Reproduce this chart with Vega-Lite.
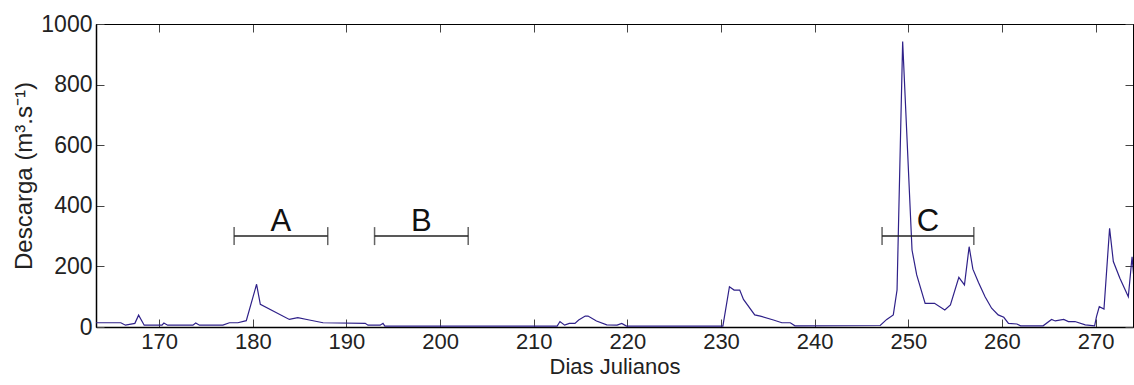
{
  "$schema": "https://vega.github.io/schema/vega-lite/v6.json",
  "width": 1037,
  "height": 303,
  "autosize": {"type": "none"},
  "padding": {"left": 96, "top": 24, "right": 1, "bottom": 58},
  "background": "white",
  "config": {
    "view": {"stroke": "#000", "strokeWidth": 1},
    "font": "Liberation Sans",
    "axis": {
      "grid": false,
      "labelFont": "Liberation Sans",
      "labelFontSize": 22,
      "labelColor": "#222",
      "tickColor": "#444",
      "tickSize": -8,
      "tickWidth": 1,
      "domainColor": "#000",
      "domainWidth": 1.5,
      "titleFont": "Liberation Sans",
      "titleFontWeight": "normal",
      "titleColor": "#222"
    }
  },
  "datasets": {
    "flow": [
      {"day": 163.2, "q": 14}, {"day": 165.9, "q": 14}, {"day": 166.4, "q": 6}, {"day": 167.4, "q": 12},
      {"day": 167.8, "q": 39}, {"day": 168.4, "q": 6}, {"day": 170.3, "q": 6}, {"day": 170.5, "q": 13},
      {"day": 170.9, "q": 6}, {"day": 173.6, "q": 6}, {"day": 173.9, "q": 13}, {"day": 174.3, "q": 6},
      {"day": 176.8, "q": 6}, {"day": 177.5, "q": 14}, {"day": 178.4, "q": 14}, {"day": 179.3, "q": 21},
      {"day": 180.4, "q": 141}, {"day": 180.8, "q": 75}, {"day": 183.9, "q": 25}, {"day": 184.8, "q": 31},
      {"day": 185.9, "q": 24}, {"day": 187.5, "q": 14}, {"day": 192.0, "q": 12}, {"day": 192.3, "q": 6},
      {"day": 193.6, "q": 6}, {"day": 193.9, "q": 12}, {"day": 194.1, "q": 3}, {"day": 212.5, "q": 3},
      {"day": 212.8, "q": 18}, {"day": 213.3, "q": 6}, {"day": 213.8, "q": 12}, {"day": 214.4, "q": 12},
      {"day": 214.8, "q": 23}, {"day": 215.5, "q": 36}, {"day": 215.8, "q": 36}, {"day": 216.7, "q": 20},
      {"day": 217.8, "q": 7}, {"day": 218.9, "q": 6}, {"day": 219.4, "q": 12}, {"day": 219.9, "q": 3},
      {"day": 230.2, "q": 3}, {"day": 230.9, "q": 133}, {"day": 231.4, "q": 122}, {"day": 232.0, "q": 122},
      {"day": 232.4, "q": 91}, {"day": 233.6, "q": 40}, {"day": 234.2, "q": 36}, {"day": 235.6, "q": 23},
      {"day": 236.5, "q": 14}, {"day": 237.4, "q": 14}, {"day": 237.9, "q": 4}, {"day": 247.0, "q": 5},
      {"day": 247.7, "q": 25}, {"day": 248.4, "q": 40}, {"day": 248.8, "q": 122}, {"day": 249.4, "q": 942},
      {"day": 250.4, "q": 254}, {"day": 250.9, "q": 172}, {"day": 251.8, "q": 78}, {"day": 252.8, "q": 78},
      {"day": 253.9, "q": 56}, {"day": 254.5, "q": 73}, {"day": 255.4, "q": 164}, {"day": 256.0, "q": 139},
      {"day": 256.5, "q": 265}, {"day": 256.9, "q": 191}, {"day": 257.5, "q": 147}, {"day": 258.2, "q": 100},
      {"day": 258.9, "q": 62}, {"day": 259.6, "q": 40}, {"day": 260.2, "q": 32}, {"day": 260.7, "q": 12},
      {"day": 261.6, "q": 10}, {"day": 262.0, "q": 4}, {"day": 264.4, "q": 4}, {"day": 265.3, "q": 25},
      {"day": 265.7, "q": 20}, {"day": 266.6, "q": 25}, {"day": 267.1, "q": 18}, {"day": 267.8, "q": 18},
      {"day": 268.9, "q": 7}, {"day": 269.9, "q": 4}, {"day": 270.1, "q": 34}, {"day": 270.4, "q": 67},
      {"day": 270.9, "q": 59}, {"day": 271.5, "q": 326}, {"day": 271.9, "q": 216}, {"day": 272.6, "q": 161},
      {"day": 273.5, "q": 100}, {"day": 273.9, "q": 232}, {"day": 274.1, "q": 160}
    ],
    "periods": [
      {"label": "A", "start": 178, "end": 188, "mid": 183, "level": 300, "textLevel": 317},
      {"label": "B", "start": 193, "end": 203, "mid": 198, "level": 300, "textLevel": 317},
      {"label": "C", "start": 247.2, "end": 257, "mid": 252.1, "level": 300, "textLevel": 317}
    ]
  },
  "resolve": {"axis": {"x": "independent", "y": "independent"}},
  "layer": [
    {
      "data": {"name": "flow"},
      "mark": {"type": "line", "color": "#2f2189", "strokeWidth": 1.2, "clip": true},
      "encoding": {
        "x": {
          "field": "day", "type": "quantitative",
          "scale": {"domain": [163.25, 274], "nice": false, "zero": false},
          "axis": {"orient": "bottom", "values": [170, 180, 190, 200, 210, 220, 230, 240, 250, 260, 270], "format": "d",
                   "title": "Dias Julianos", "titleFontSize": 22, "titlePadding": 4, "labelPadding": 12}
        },
        "y": {
          "field": "q", "type": "quantitative",
          "scale": {"domain": [0, 1000], "nice": false},
          "axis": {"orient": "left", "values": [0, 200, 400, 600, 800, 1000], "format": "d",
                   "labelFontSize": 23,
                   "title": "Descarga (m³.s⁻¹)", "titleFontSize": 24, "titlePadding": 4, "labelPadding": 12}
        }
      }
    },
    {
      "data": {"name": "periods"},
      "mark": {"type": "rule", "color": "#222", "strokeWidth": 1.5},
      "encoding": {
        "x": {
          "field": "start", "type": "quantitative",
          "scale": {"domain": [163.25, 274], "nice": false, "zero": false},
          "axis": {"orient": "top", "values": [170, 180, 190, 200, 210, 220, 230, 240, 250, 260, 270],
                   "labels": false, "title": null, "domainWidth": 1}
        },
        "x2": {"field": "end"},
        "y": {
          "field": "level", "type": "quantitative",
          "scale": {"domain": [0, 1000], "nice": false},
          "axis": {"orient": "right", "values": [0, 200, 400, 600, 800, 1000],
                   "labels": false, "title": null, "domainWidth": 1}
        }
      }
    },
    {
      "data": {"name": "periods"},
      "mark": {"type": "tick", "orient": "vertical", "color": "#222", "size": 18, "thickness": 1.5},
      "encoding": {
        "x": {"field": "start", "type": "quantitative", "axis": null},
        "y": {"field": "level", "type": "quantitative", "axis": null}
      }
    },
    {
      "data": {"name": "periods"},
      "mark": {"type": "tick", "orient": "vertical", "color": "#222", "size": 18, "thickness": 1.5},
      "encoding": {
        "x": {"field": "end", "type": "quantitative", "axis": null},
        "y": {"field": "level", "type": "quantitative", "axis": null}
      }
    },
    {
      "data": {"name": "periods"},
      "mark": {"type": "text", "font": "Liberation Sans", "fontSize": 31, "color": "#111", "baseline": "alphabetic", "align": "center"},
      "encoding": {
        "x": {"field": "mid", "type": "quantitative", "axis": null},
        "y": {"field": "textLevel", "type": "quantitative", "axis": null},
        "text": {"field": "label"}
      }
    }
  ]
}
